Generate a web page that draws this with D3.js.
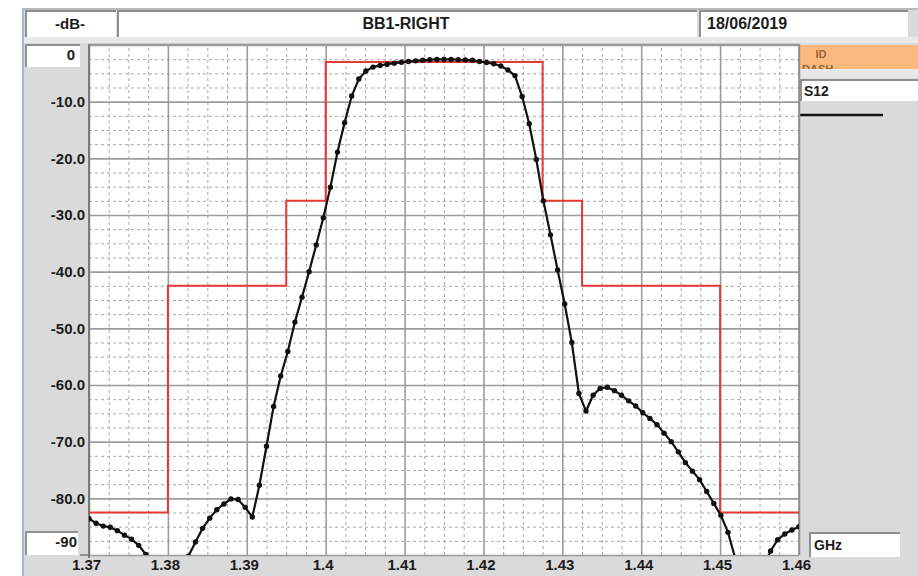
<!DOCTYPE html>
<html>
<head>
<meta charset="utf-8">
<script src="https://cdn.jsdelivr.net/npm/d3@7"></script>
<style>
  body { margin: 0; background: #fff; }
  svg text { font-family: "Liberation Sans", Arial, sans-serif; font-weight: bold; fill: #1c1c1c; }
</style>
</head>
<body>
<div id="chart"></div>
<script>
// labels shown on the analyzer screen
const title = "BB1-RIGHT";
const unitY = "-dB-";
const dateLabel = "18/06/2019";
const traceName = "S12";
const unitX = "GHz";

// axis ticks
const xTicks = [1.37, 1.38, 1.39, 1.40, 1.41, 1.42, 1.43, 1.44, 1.45, 1.46];
const xTickLabels = ["1.37", "1.38", "1.39", "1.4", "1.41", "1.42", "1.43", "1.44", "1.45", "1.46"];
const yTicks = [0, -10, -20, -30, -40, -50, -60, -70, -80, -90];
const yTickLabels = ["0", "-10.0", "-20.0", "-30.0", "-40.0", "-50.0", "-60.0", "-70.0", "-80.0", "-90"];

// limit mask (red): step edges in GHz, level of each step in dB
const maskFreq = [1.37, 1.38, 1.395, 1.40, 1.4275, 1.4325, 1.45, 1.46];
const maskLevel = [-82.5, -42.5, -27.5, -3.0, -27.5, -42.5, -82.5];

// measured S12 sweep (GHz)
const traceFreq = [
  1.3700, 1.3709, 1.3718, 1.3727, 1.3736, 1.3745, 1.3754, 1.3763, 1.3772, 1.3781,
  1.3790, 1.3799, 1.3808, 1.3817, 1.3826, 1.3835, 1.3844, 1.3853, 1.3862, 1.3871,
  1.3880, 1.3889, 1.3898, 1.3907, 1.3916, 1.3925, 1.3934, 1.3943, 1.3952, 1.3961,
  1.3970, 1.3979, 1.3988, 1.3997, 1.4006, 1.4015, 1.4024, 1.4033, 1.4042, 1.4051,
  1.4060, 1.4069, 1.4078, 1.4087, 1.4096, 1.4105, 1.4114, 1.4123, 1.4132, 1.4141,
  1.4150, 1.4159, 1.4168, 1.4177, 1.4186, 1.4195, 1.4204, 1.4213, 1.4222, 1.4231,
  1.4240, 1.4249, 1.4258, 1.4267, 1.4276, 1.4285, 1.4294, 1.4303, 1.4312, 1.4321,
  1.4330, 1.4339, 1.4348, 1.4357, 1.4366, 1.4375, 1.4384, 1.4393, 1.4402, 1.4411,
  1.4420, 1.4429, 1.4438, 1.4447, 1.4456, 1.4465, 1.4474, 1.4483, 1.4492, 1.4501,
  1.4510, 1.4519, 1.4528, 1.4537, 1.4546, 1.4555, 1.4564, 1.4573, 1.4582, 1.4591,
  1.4600
];
// measured S12 level (dB)
const traceDb = [
  -83.6, -84.4, -84.9, -85.1, -85.7, -86.5, -87.2, -88.3, -89.9, -92.0,
  -95.0, -99.0, -96.0, -92.5, -90.2, -87.7, -85.3, -83.5, -82.0, -81.0,
  -80.1, -80.2, -81.6, -83.3, -77.7, -70.8, -63.8, -58.4, -54.1, -48.9,
  -44.5, -40.0, -35.3, -30.5, -25.1, -18.9, -13.7, -9.0, -6.0, -4.6,
  -3.9, -3.6, -3.4, -3.2, -3.05, -2.9, -2.8, -2.7, -2.6, -2.55,
  -2.55, -2.55, -2.6, -2.65, -2.7, -2.9, -3.1, -3.3, -3.7, -4.4,
  -5.4, -9.1, -13.9, -20.2, -27.5, -33.5, -39.7, -45.7, -52.5, -61.5,
  -64.6, -61.8, -60.6, -60.4, -61.0, -61.8, -62.8, -63.7, -64.9, -65.9,
  -67.0, -68.5, -70.0, -71.8, -73.7, -75.2, -76.7, -78.8, -80.9, -83.0,
  -86.0, -90.5, -95.0, -99.0, -96.0, -92.0, -89.3, -87.3, -86.3, -85.6,
  -85.0
];

const W = 918, H = 576;
const plot = { left: 89, right: 799, top: 45, bottom: 555 };

const svg = d3.select("#chart").append("svg")
    .attr("width", W)
    .attr("height", H);

// grey instrument panel
svg.append("rect")
    .attr("x", 22).attr("y", 8)
    .attr("width", W - 22).attr("height", H - 8)
    .attr("fill", "#dadada");
svg.append("line")
    .attr("x1", 23).attr("x2", 23).attr("y1", 8).attr("y2", H)
    .attr("stroke", "#a9b8c8").attr("stroke-width", 2);
svg.append("line")
    .attr("x1", 22).attr("x2", W).attr("y1", 9).attr("y2", 9)
    .attr("stroke", "#b8b8b8").attr("stroke-width", 2);
// light band under header
svg.append("rect")
    .attr("x", 24).attr("y", 37)
    .attr("width", W - 24).attr("height", 6)
    .attr("fill", "#e9e9e9");

// white sunken field with a darker top/left edge
function field(x0, y0, w, h) {
    const g = svg.append("g");
    g.append("rect").attr("x", x0).attr("y", y0).attr("width", w).attr("height", h).attr("fill", "#fff");
    g.append("path")
        .attr("d", `M${x0},${y0 + h}V${y0}H${x0 + w}`)
        .attr("fill", "none").attr("stroke", "#8f8f8f").attr("stroke-width", 2);
    return g;
}

field(26, 11, 90, 26);
field(118, 11, 579, 26);
field(700, 11, 208, 26);

svg.append("text").attr("x", 70).attr("y", 29).attr("text-anchor", "middle")
    .style("font-size", "15px").text(unitY);
svg.append("text").attr("x", 406).attr("y", 29).attr("text-anchor", "middle")
    .style("font-size", "16px").text(title);
svg.append("text").attr("x", 707).attr("y", 29)
    .style("font-size", "16px").text(dateLabel);

// boxes holding the top and bottom y limits
field(26, 45, 54, 22);
field(26, 532, 52, 23);

// right side: legend
svg.append("rect").attr("x", 800).attr("y", 45).attr("width", W - 800).attr("height", 24).attr("fill", "#fbb97e");
svg.append("clipPath").attr("id", "idclip")
    .append("rect").attr("x", 800).attr("y", 45).attr("width", W - 800).attr("height", 24);
const idg = svg.append("g").attr("clip-path", "url(#idclip)");
idg.append("text").attr("x", 821).attr("y", 58).attr("text-anchor", "middle")
    .style("font-size", "11px").style("fill", "#9a6436").text("ID");
idg.append("text").attr("x", 802).attr("y", 73)
    .style("font-size", "11px").style("fill", "#9a6436").text("DASH");
svg.append("rect").attr("x", 800).attr("y", 69).attr("width", W - 800).attr("height", 9).attr("fill", "#e8e8e8");
field(801, 80, W - 801, 21);
svg.append("text").attr("x", 804).attr("y", 96).style("font-size", "14px").text(traceName);
svg.append("line")
    .attr("x1", 800).attr("x2", 883).attr("y1", 115).attr("y2", 115)
    .attr("stroke", "#111").attr("stroke-width", 2.5);

field(810, 533, 90, 24);
svg.append("text").attr("x", 814).attr("y", 550).style("font-size", "14px").text(unitX);

// scales
const x = d3.scaleLinear().domain([1.37, 1.46]).range([plot.left, plot.right]);
const y = d3.scaleLinear().domain([0, -90]).range([plot.top, plot.bottom]);

// plot area
svg.append("rect")
    .attr("x", plot.left).attr("y", plot.top)
    .attr("width", plot.right - plot.left).attr("height", plot.bottom - plot.top)
    .attr("fill", "#fff");

// minor grid every quarter division (dashed)
const minorX = d3.range(0, 37).map(i => 1.37 + i * 0.0025).filter((d, i) => i % 4 !== 0);
const minorY = d3.range(0, 37).map(i => -i * 2.5).filter((d, i) => i % 4 !== 0);

const minorGrid = svg.append("g").attr("class", "minor");
minorGrid.append("g")
    .attr("transform", `translate(0,${plot.bottom})`)
    .call(d3.axisBottom(x).tickValues(minorX).tickSize(-(plot.bottom - plot.top)).tickFormat(""));
minorGrid.append("g")
    .attr("transform", `translate(${plot.left},0)`)
    .call(d3.axisLeft(y).tickValues(minorY).tickSize(-(plot.right - plot.left)).tickFormat(""));
minorGrid.selectAll(".domain").remove();
minorGrid.selectAll("line")
    .attr("stroke", "#a8a8a8").attr("stroke-width", 1).attr("stroke-dasharray", "3,3");

// major grid
const majorGrid = svg.append("g").attr("class", "major");
majorGrid.append("g")
    .attr("transform", `translate(0,${plot.bottom})`)
    .call(d3.axisBottom(x).tickValues(xTicks).tickSize(-(plot.bottom - plot.top)).tickFormat(""));
majorGrid.append("g")
    .attr("transform", `translate(${plot.left},0)`)
    .call(d3.axisLeft(y).tickValues(yTicks).tickSize(-(plot.right - plot.left)).tickFormat(""));
majorGrid.selectAll(".domain").remove();
majorGrid.selectAll("line").attr("stroke", "#9c9c9c").attr("stroke-width", 1.6);

// frame
svg.append("line").attr("x1", plot.left).attr("x2", plot.left).attr("y1", plot.top - 1).attr("y2", plot.bottom + 3)
    .attr("stroke", "#7a7a7a").attr("stroke-width", 2);
svg.append("line").attr("x1", plot.right).attr("x2", plot.right).attr("y1", plot.top - 1).attr("y2", plot.bottom)
    .attr("stroke", "#8a8a8a").attr("stroke-width", 1.5);
svg.append("line").attr("x1", plot.left).attr("x2", plot.right).attr("y1", plot.top - 0.5).attr("y2", plot.top - 0.5)
    .attr("stroke", "#9a9a9a").attr("stroke-width", 1.5);
svg.append("line").attr("x1", 80).attr("x2", plot.left).attr("y1", plot.bottom).attr("y2", plot.bottom)
    .attr("stroke", "#7a7a7a").attr("stroke-width", 1.5);

// tick labels
const xAxis = svg.append("g")
    .attr("transform", `translate(0,${plot.bottom})`)
    .call(d3.axisBottom(x).tickValues(xTicks).tickSize(0).tickPadding(4)
        .tickFormat((d, i) => xTickLabels[i]));
xAxis.select(".domain").remove();
xAxis.selectAll("text")
    .attr("dx", -3)
    .style("font-size", "15px")
    .style("font-family", "'Liberation Sans', Arial, sans-serif")
    .style("font-weight", "bold")
    .attr("fill", "#1c1c1c");

const yAxis = svg.append("g")
    .attr("transform", `translate(${plot.left},0)`)
    .call(d3.axisLeft(y).tickValues(yTicks).tickSize(0).tickPadding(4)
        .tickFormat((d, i) => yTickLabels[i]));
yAxis.select(".domain").remove();
yAxis.selectAll("text")
    .style("font-size", "15px")
    .style("font-family", "'Liberation Sans', Arial, sans-serif")
    .style("font-weight", "bold")
    .attr("fill", "#1c1c1c");
// end labels sit inside their boxes
yAxis.selectAll(".tick").filter(d => d === 0).select("text").attr("x", -14).attr("dy", "0.95em");
yAxis.selectAll(".tick").filter(d => d === -90).select("text").attr("x", -12).attr("dy", "-0.6em");

// traces clipped to the plot
svg.append("clipPath").attr("id", "plotclip")
    .append("rect")
    .attr("x", plot.left).attr("y", plot.top)
    .attr("width", plot.right - plot.left).attr("height", plot.bottom - plot.top);
const traces = svg.append("g").attr("clip-path", "url(#plotclip)");

const maskPts = maskFreq.map((f, i) => [f, maskLevel[Math.min(i, maskLevel.length - 1)]]);
traces.append("path")
    .datum(maskPts)
    .attr("fill", "none")
    .attr("stroke", "#e63a36")
    .attr("stroke-width", 2)
    .attr("d", d3.line().x(d => x(d[0])).y(d => y(d[1])).curve(d3.curveStepAfter));

const pts = traceFreq.map((f, i) => ({ f: f, v: traceDb[i] }));
traces.append("path")
    .datum(pts)
    .attr("fill", "none")
    .attr("stroke", "#111")
    .attr("stroke-width", 2.2)
    .attr("d", d3.line().x(d => x(d.f)).y(d => y(d.v)));
traces.selectAll("circle")
    .data(pts)
    .enter().append("circle")
    .attr("cx", d => x(d.f))
    .attr("cy", d => y(d.v))
    .attr("r", 2.7)
    .attr("fill", "#111");
</script>
</body>
</html>
